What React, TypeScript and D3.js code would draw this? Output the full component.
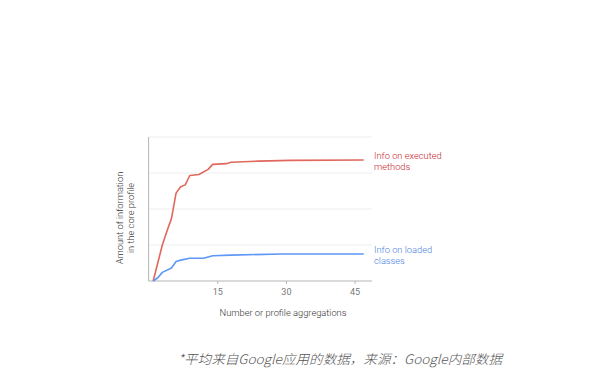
import { useEffect, useRef } from 'react';
import * as d3 from 'd3';

// values (y in gridline units, 0..4)
const methodsX = [1, 2, 3, 4, 5, 6, 7, 8, 9, 11, 13, 14, 17, 18, 24, 31, 47];
const methodsY = [0, 0.5, 1.0, 1.38, 1.74, 2.44, 2.62, 2.67, 2.93, 2.96, 3.1, 3.24, 3.26, 3.3, 3.33, 3.35, 3.36];
const classesX = [1, 2, 3, 5, 6, 7, 9, 12, 14, 18, 29, 47];
const classesY = [0, 0.09, 0.24, 0.36, 0.54, 0.58, 0.63, 0.63, 0.7, 0.72, 0.75, 0.75];
const xTicks = [15, 30, 45];
const yGrid = [1, 2, 3, 4];
const seriesLabels = [['Info on executed', 'methods'], ['Info on loaded', 'classes']];
const yTitle = ['Amount of information', 'in the core profile'];
const xTitle = 'Number or profile aggregations';
const footnote = '*平均来自Google应用的数据，来源：Google内部数据';

function App() {
  const svgRef = useRef<SVGSVGElement>(null);

  useEffect(() => {
    const svg = d3.select(svgRef.current);
    svg.selectAll('*').remove();

    const x = d3.scaleLinear().domain([0, 48.8]).range([148.6, 372]);
    const y = d3.scaleLinear().domain([0, 4]).range([281, 137]);

    // gridlines
    svg
      .append('g')
      .selectAll('line')
      .data(yGrid)
      .enter()
      .append('line')
      .attr('x1', x(0))
      .attr('x2', x.range()[1])
      .attr('y1', d => y(d))
      .attr('y2', d => y(d))
      .attr('stroke', '#ededed')
      .attr('stroke-width', 1);

    // x axis
    const xAxis = svg
      .append('g')
      .attr('transform', `translate(0, ${y(0)})`)
      .call(d3.axisBottom(x).tickValues(xTicks).tickSize(3).tickPadding(5).tickFormat(d3.format('d')));
    xAxis.select('.domain').attr('stroke', '#b5b5b5').attr('d', `M${x(0)},0H${x.range()[1]}`);
    xAxis.selectAll('.tick line').attr('stroke', '#b5b5b5');
    xAxis
      .selectAll('.tick text')
      .attr('fill', '#777')
      .style('font-family', 'Roboto, sans-serif')
      .style('font-size', '9px');

    // y axis line
    svg
      .append('line')
      .attr('x1', x(0))
      .attr('x2', x(0))
      .attr('y1', y(4))
      .attr('y2', y(0))
      .attr('stroke', '#b5b5b5');

    const line = d3
      .line<[number, number]>()
      .x(d => x(d[0]))
      .y(d => y(d[1]));

    const series = [
      { xs: methodsX, ys: methodsY, color: '#e0685c', text: '#c5221f' },
      { xs: classesX, ys: classesY, color: '#5e97f6', text: '#4a80e0' },
    ];

    series.forEach((s, i) => {
      const pts = s.xs.map((v, j) => [v, s.ys[j]] as [number, number]);
      svg
        .append('path')
        .attr('d', line(pts))
        .attr('fill', 'none')
        .attr('stroke', s.color)
        .attr('stroke-width', 1.6)
        .attr('stroke-linejoin', 'round');

      const last = pts[pts.length - 1];
      const lbl = svg
        .append('text')
        .attr('x', 374)
        .attr('y', y(last[1]) - 1)
        .attr('fill', s.text)
        .style('font-family', 'Roboto, sans-serif')
        .style('font-weight', 300)
        .style('font-size', '9.3px');
      seriesLabels[i].forEach((t, k) => {
        lbl
          .append('tspan')
          .attr('x', 374)
          .attr('dy', k === 0 ? 0 : 11)
          .text(t);
      });
    });

    // y title
    const yt = svg
      .append('text')
      .attr('transform', `translate(123, 218) rotate(-90)`)
      .attr('text-anchor', 'middle')
      .attr('fill', '#333')
      .style('font-family', 'Roboto, sans-serif')
      .style('font-weight', 300)
      .style('font-size', '9.3px');
    yTitle.forEach((t, k) => {
      yt.append('tspan')
        .attr('x', 0)
        .attr('dy', k === 0 ? 0 : 10.5)
        .text(t);
    });

    // x title
    svg
      .append('text')
      .attr('x', 283)
      .attr('y', 316)
      .attr('text-anchor', 'middle')
      .attr('fill', '#333')
      .style('font-family', 'Roboto, sans-serif')
      .style('font-weight', 300)
      .style('font-size', '9.3px')
      .text(xTitle);

    // footnote
    svg
      .append('text')
      .attr('x', 178)
      .attr('y', 364)
      .attr('fill', '#555')
      .style('font-family', '"Noto Sans CJK SC", sans-serif')
      .style('font-style', 'italic')
      .style('font-weight', 300)
      .style('font-size', '13px')
      .attr('textLength', 324)
      .attr('lengthAdjust', 'spacingAndGlyphs')
      .text(footnote);
  }, []);

  return (
    <svg
      ref={svgRef}
      width={595}
      height={372}
      style={{ position: 'absolute', left: 0, top: 0, background: '#fff' }}
    />
  );
}

export default App;
